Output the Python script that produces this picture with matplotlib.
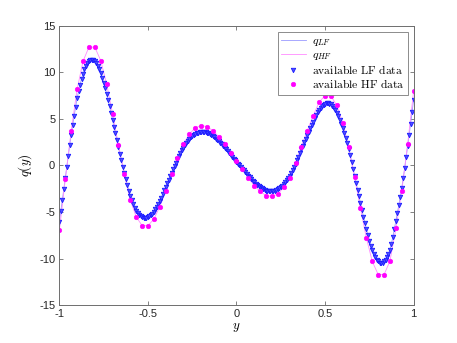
import numpy as np
import matplotlib
matplotlib.use('Agg')
import matplotlib.pyplot as plt

plt.rcParams['font.family'] = ['Liberation Sans', 'DejaVu Sans']
plt.rcParams['mathtext.fontset'] = 'cm'
plt.rcParams['axes.unicode_minus'] = False

# sample points (LF every 1/120, HF every 1/30)
y_lf = np.linspace(-1, 1, 241)
y_hf = np.linspace(-1, 1, 61)

q_lf = [
    -6.04, -4.85, -3.65, -2.47, -1.29, -0.12, 1.05, 2.20,
    3.29, 4.34, 5.36, 6.32, 7.19, 7.97, 8.68, 9.31,
    9.85, 10.31, 10.68, 10.97, 11.18, 11.30, 11.34, 11.30,
    11.18, 10.97, 10.68, 10.32, 9.91, 9.43, 8.89, 8.31,
    7.69, 7.04, 6.35, 5.63, 4.91, 4.18, 3.44, 2.69,
    1.96, 1.24, 0.54, -0.16, -0.82, -1.47, -2.10, -2.69,
    -3.23, -3.71, -4.14, -4.52, -4.84, -5.09, -5.29, -5.43,
    -5.54, -5.61, -5.63, -5.62, -5.56, -5.46, -5.33, -5.16,
    -4.95, -4.71, -4.43, -4.13, -3.80, -3.45, -3.07, -2.68,
    -2.29, -1.91, -1.52, -1.14, -0.76, -0.39, -0.03, 0.32,
    0.66, 0.99, 1.32, 1.62, 1.91, 2.17, 2.42, 2.64,
    2.84, 3.01, 3.16, 3.29, 3.39, 3.47, 3.54, 3.58,
    3.60, 3.61, 3.59, 3.56, 3.51, 3.44, 3.35, 3.25,
    3.14, 3.02, 2.89, 2.75, 2.60, 2.44, 2.28, 2.11,
    1.93, 1.74, 1.55, 1.35, 1.15, 0.95, 0.75, 0.55,
    0.36, 0.18, 0.01, -0.16, -0.34, -0.52, -0.71, -0.90,
    -1.09, -1.28, -1.46, -1.64, -1.81, -1.96, -2.09, -2.21,
    -2.33, -2.44, -2.55, -2.65, -2.72, -2.76, -2.79, -2.79,
    -2.78, -2.76, -2.72, -2.66, -2.57, -2.45, -2.31, -2.15,
    -1.97, -1.79, -1.59, -1.37, -1.12, -0.83, -0.51, -0.17,
    0.19, 0.56, 0.95, 1.35, 1.74, 2.11, 2.48, 2.85,
    3.22, 3.60, 3.98, 4.36, 4.72, 5.07, 5.41, 5.72,
    5.98, 6.20, 6.37, 6.51, 6.60, 6.66, 6.67, 6.65,
    6.56, 6.42, 6.22, 5.97, 5.67, 5.33, 4.93, 4.49,
    4.02, 3.51, 2.97, 2.38, 1.76, 1.09, 0.37, -0.37,
    -1.11, -1.84, -2.59, -3.32, -4.05, -4.77, -5.49, -6.19,
    -6.84, -7.46, -8.05, -8.59, -9.06, -9.47, -9.82, -10.10,
    -10.30, -10.42, -10.46, -10.42, -10.30, -10.11, -9.85, -9.50,
    -9.02, -8.39, -7.63, -6.79, -5.95, -5.12, -4.26, -3.36,
    -2.40, -1.36, -0.26, 0.89, 2.06, 3.26, 4.50, 5.75,
    7.00,
]

q_hf = [
    -6.94, -1.47, 3.74, 8.17, 11.19, 12.70, 12.70, 11.26, 8.74, 5.58,
    2.23, -0.93, -3.67, -5.50, -6.44, -6.47, -5.75, -4.42, -2.73, -0.90,
    0.79, 2.27, 3.38, 4.03, 4.28, 4.18, 3.74, 3.10, 2.30, 1.37,
    0.43, -0.40, -1.30, -2.16, -2.77, -3.24, -3.31, -3.06, -2.34, -1.30,
    0.22, 2.02, 3.74, 5.36, 6.80, 7.50, 7.45, 6.44, 4.57, 2.00,
    -1.26, -4.60, -7.77, -10.29, -11.70, -11.70, -10.25, -6.76, -2.73, 2.34,
    7.95,
]

fig = plt.figure(figsize=(4.57, 3.43), dpi=100)
ax = fig.add_axes([0.13, 0.11, 0.775, 0.815])

ax.plot(y_lf, q_lf, color='#9a9aff', lw=0.6, label=r'$q_{LF}$')
ax.plot(y_hf, q_hf, color='#ff8cff', lw=0.6, label=r'$q_{HF}$')
ax.plot(y_lf, q_lf, ls='none', marker='v', ms=3.2, mfc='#5050ff', mec='#1a1aff',
        mew=0.6, label=r'$\mathrm{available\ LF\ data}$')
ax.plot(y_hf, q_hf, ls='none', marker='o', ms=3.3, mfc='#ff00ff', mec='#ff00ff',
        mew=0.4, label=r'$\mathrm{available\ HF\ data}$')

ax.set_xlim(-1, 1)
ax.set_ylim(-15, 15)
ax.set_xticks([-1, -0.5, 0, 0.5, 1])
ax.set_xticklabels(['-1', '-0.5', '0', '0.5', '1'])
ax.set_yticks([-15, -10, -5, 0, 5, 10, 15])

for s in ax.spines.values():
    s.set_color('#6e6e6e')
    s.set_linewidth(0.7)
ax.tick_params(direction='in', length=3, width=0.6, color='#6e6e6e',
               labelsize=8, labelcolor='#262626', top=True, right=True, pad=3)

ax.set_xlabel(r'$y$', fontsize=9.5, labelpad=1)
ax.set_ylabel(r'$q(y)$', fontsize=9.5, labelpad=4)

leg = ax.legend(loc='upper right', fontsize=8.4, fancybox=False, framealpha=1,
                edgecolor='#7a7a7a', borderaxespad=0.5, handlelength=2.1,
                handletextpad=0.5, labelspacing=0.12, borderpad=0.3)
leg.get_frame().set_linewidth(0.6)

fig.savefig('out.png', dpi=100)
